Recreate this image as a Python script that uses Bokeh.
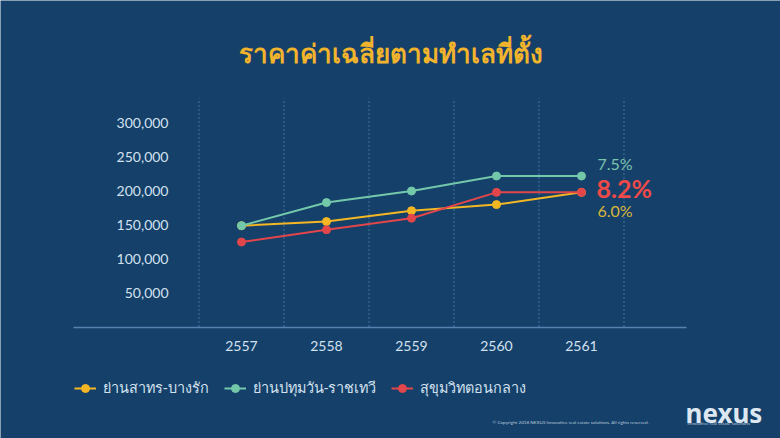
from bokeh.plotting import figure
from bokeh.models import (LinearAxis, FixedTicker, NumeralTickFormatter,
                          Legend, LegendItem, Range1d, Label)
from bokeh.core.properties import value
from bokeh.embed import file_html
from bokeh.resources import INLINE

# ---- data ----
years = ["2557", "2558", "2559", "2560", "2561"]
sathorn = [149000, 155000, 171000, 180000, 198000]      # ย่านสาทร-บางรัก
pathumwan = [149000, 183000, 200000, 222000, 222000]    # ย่านปทุมวัน-ราชเทวี
sukhumvit = [125000, 143000, 160000, 198000, 198000]    # สุขุมวิทตอนกลาง
series_names = ["ย่านสาทร-บางรัก", "ย่านปทุมวัน-ราชเทวี", "สุขุมวิทตอนกลาง"]
growth = ["6.0%", "7.5%", "8.2%"]
y_ticks = [50000, 100000, 150000, 200000, 250000, 300000]
title_text = "ราคาค่าเฉลี่ยตามทำเลที่ตั้ง"
copyright_text = "© Copyright 2018 NEXUS Innovative real estate solutions. All rights reserved."

BG = "#15406a"
YELLOW = "#f4b723"
TEAL = "#74c8aa"
RED = "#e2464b"
LABEL = "#d3e1ef"
FONT = "Lato"

W, H = 780, 438
PX_X = 85.0            # px per category
X0_PX = 241.0          # px of first category
PX_Y = 34.0 / 50000    # px per unit value
Y0_PX = 326.5          # px of value 0

xs = list(range(len(years)))

p = figure(width=W, height=H, output_backend="svg", toolbar_location=None,
           x_axis_location=None, y_axis_location=None,
           x_range=Range1d(-X0_PX / PX_X, (W - X0_PX) / PX_X),
           y_range=Range1d(-(H - Y0_PX) / PX_Y, Y0_PX / PX_Y),
           min_border=0, min_border_left=0, min_border_right=0,
           min_border_top=0, min_border_bottom=0,
           background_fill_color=BG, border_fill_color=BG, outline_line_color=None)
p.grid.visible = False

# title
p.add_layout(Label(x=390, y=H - 52, x_units="screen", y_units="screen", text=title_text,
                   text_align="center", text_baseline="middle",
                   text_color="#f2b42c", text_font_size="26px", text_font_style="bold",
                   text_font="Noto Sans"))

# vertical dashed grid lines between categories
grid_x = [i - 0.5 for i in range(len(years) + 1)]
grid_top = (Y0_PX - 98) / PX_Y
p.segment(x0=grid_x, y0=[0] * len(grid_x), x1=grid_x, y1=[grid_top] * len(grid_x),
          line_color="#44719e", line_dash="2 2", line_width=1)

# axes
yax = LinearAxis(fixed_location=(173 - X0_PX) / PX_X, ticker=FixedTicker(ticks=y_ticks),
                 formatter=NumeralTickFormatter(format="0,0"))
yax.axis_line_color = None
yax.major_tick_line_color = None
yax.major_tick_out = 0
yax.major_tick_in = 0
yax.minor_tick_line_color = None
yax.major_label_text_color = LABEL
yax.major_label_text_font = FONT
yax.major_label_text_font_size = "14px"
yax.major_label_standoff = 5
p.add_layout(yax, "left")

xax = LinearAxis(fixed_location=0, ticker=FixedTicker(ticks=xs),
                 bounds=((73 - X0_PX) / PX_X, (686 - X0_PX) / PX_X),
                 major_label_overrides={i: y for i, y in zip(xs, years)})
xax.axis_line_color = "#5682b0"
xax.axis_line_width = 1.5
xax.major_tick_line_color = None
xax.major_tick_out = 0
xax.major_tick_in = 0
xax.minor_tick_line_color = None
xax.major_label_text_color = LABEL
xax.major_label_text_font = FONT
xax.major_label_text_font_size = "14px"
xax.major_label_standoff = 14
p.add_layout(xax, "below")

# series
items = []
for vals, col, name in [(sathorn, YELLOW, series_names[0]),
                        (pathumwan, TEAL, series_names[1]),
                        (sukhumvit, RED, series_names[2])]:
    l = p.line(xs, vals, line_color=col, line_width=2)
    c = p.scatter(xs, vals, size=8, fill_color=col, line_color=col)
    items.append(LegendItem(label=name, renderers=[l, c]))

# growth labels
last = len(xs) - 1
p.text([xs[last]], [pathumwan[last]], text=[growth[1]], x_offset=16, y_offset=-13,
       text_color="#7cc3ae", text_font=value(FONT), text_font_size="16px",
       text_baseline="middle", text_align="left")
p.text([xs[last]], [sukhumvit[last]], text=[growth[2]], x_offset=15, y_offset=-4,
       text_color="#ee4a48", text_font=value(FONT), text_font_size="25px", text_font_style="bold",
       text_baseline="middle", text_align="left")
p.text([xs[last]], [sathorn[last]], text=[growth[0]], x_offset=16, y_offset=18,
       text_color="#d9b53a", text_font=value(FONT), text_font_size="16px",
       text_baseline="middle", text_align="left")

legend = Legend(items=items, orientation="horizontal", location=(74, 39),
                background_fill_alpha=0, border_line_color=None,
                label_text_color=LABEL, label_text_font="Noto Sans", label_text_font_size="14.4px",
                glyph_width=22, glyph_height=20, label_standoff=7, spacing=15, padding=0, margin=0)
p.add_layout(legend, "center")

# footer
p.add_layout(Label(x=492, y=H - 424, x_units="screen", y_units="screen", text=copyright_text,
                   text_font=FONT, text_font_size="4.6px", text_color="#b8c9dc"))
p.add_layout(Label(x=685, y=H - 412, x_units="screen", y_units="screen", text="nexus",
                   text_font="Noto Sans", text_font_size="26px", text_font_style="bold",
                   text_color="#dde7f1", text_baseline="alphabetic"))
p.add_layout(Label(x=687, y=H - 425, x_units="screen", y_units="screen",
                   text="innovative real estate solutions",
                   text_font=FONT, text_font_size="4.6px", text_color="#b8c9dc"))

open("out.html", "w").write(file_html(p, INLINE))
